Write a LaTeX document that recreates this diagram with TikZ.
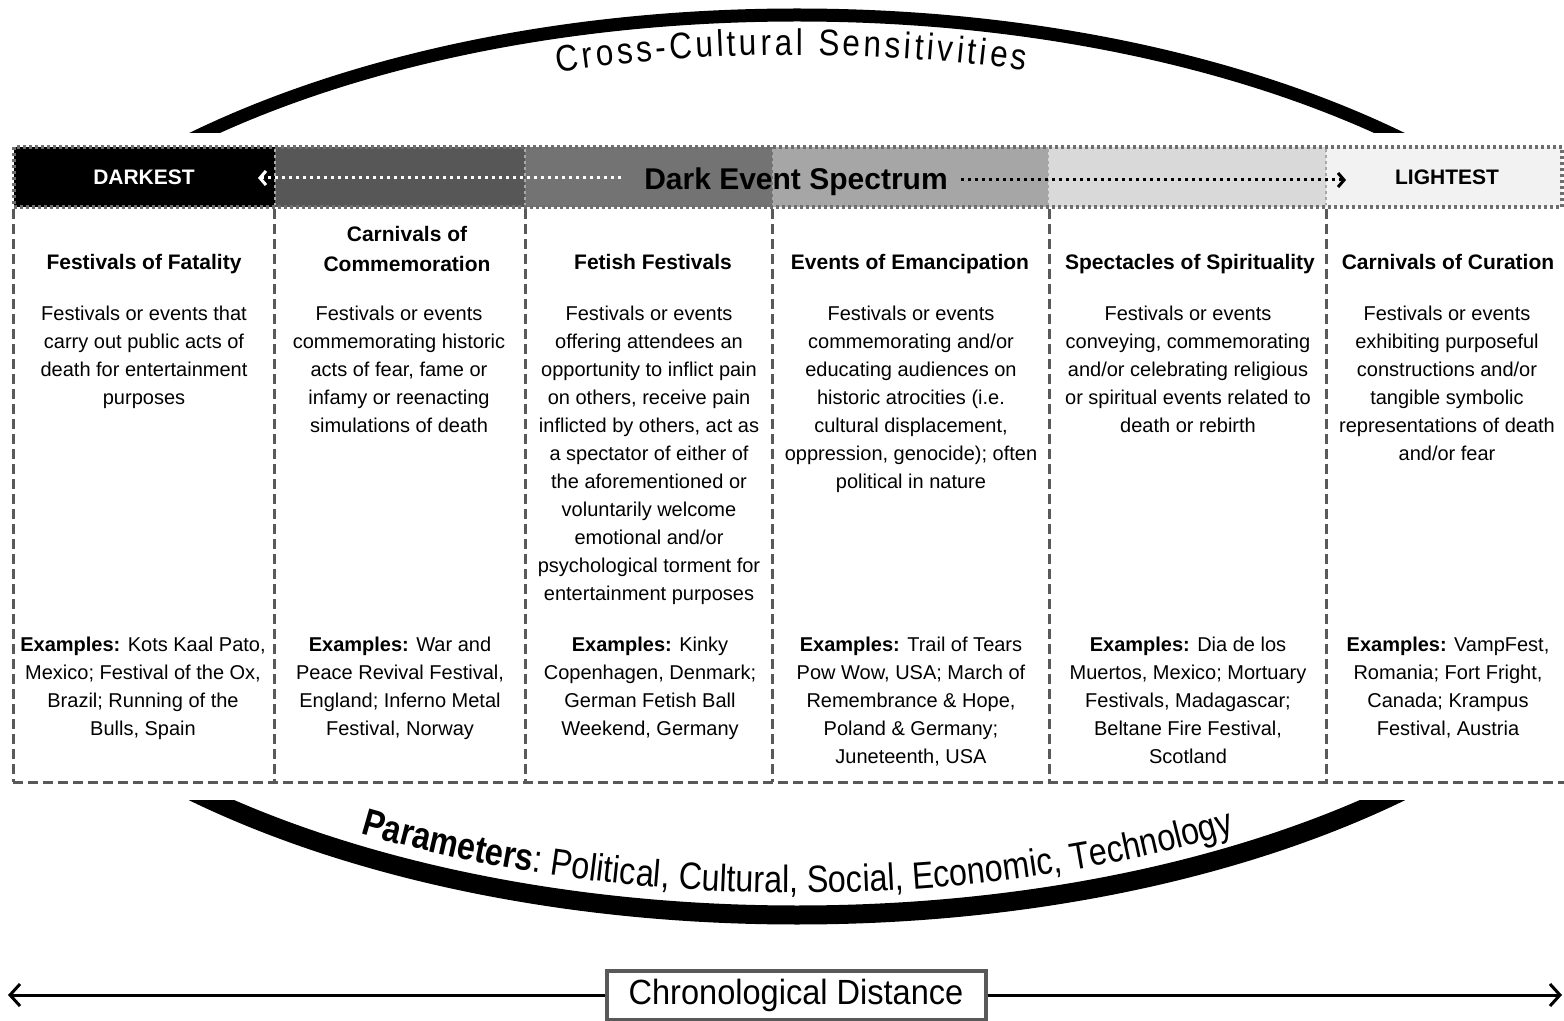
\documentclass[tikz,border=0pt]{standalone}
\usepackage{fontspec}
\setmainfont{Liberation Sans}
\newfontfamily\narrowfont[FakeStretch=0.85]{Liberation Sans}
\newfontfamily\chronofont[FakeStretch=0.93]{Liberation Sans}
\usetikzlibrary{arrows.meta,decorations.text}
\definecolor{dashgray}{HTML}{595959}
\definecolor{framegray}{HTML}{6E6E6E}
\definecolor{specA}{HTML}{575757}
\definecolor{specB}{HTML}{737373}
\definecolor{specC}{HTML}{A6A6A6}
\definecolor{specD}{HTML}{D9D9D9}
\definecolor{specE}{HTML}{F2F2F2}
\begin{document}
\begin{tikzpicture}[x=0.5pt, y=-0.5pt,
    colline/.style={draw=dashgray, line width=1.5pt, dash pattern=on 5pt off 2.5pt},
    barline/.style={draw=framegray, line width=2pt, dash pattern=on 1.5pt off 1.5pt},
    heading/.style={anchor=north, align=center, inner sep=0pt, font=\fontsize{10.5}{15}\selectfont\bfseries},
    body/.style={anchor=north, align=center, inner sep=0pt, font=\fontsize{10}{14}\selectfont},
    endlabel/.style={inner sep=0pt, font=\fontsize{10.5}{12}\selectfont\bfseries},
    ring/.style={line width=6.5pt},
    spread/.style={line width=1.5pt, dash pattern=on 1.5pt off 2pt, -{Straight Barb[length=3pt,width=7pt]}},
    chronobox/.style={draw=dashgray, line width=2pt, fill=white, minimum width=189.5pt, minimum height=24.5pt, inner sep=0pt, font=\chronofont\fontsize{17.5}{20}\selectfont},
    timeline/.style={line width=1.5pt, -{Straight Barb[length=5pt,width=11pt]}}]

\useasboundingbox (0,0) rectangle (1564,1021);

\begin{scope}
  \clip (0,0) rectangle (1564,133);
  \draw[ring] (797,465) ellipse [x radius=878, y radius=450];
\end{scope}
\begin{scope}
  \clip (0,800) rectangle (1564,1021);
  \draw[ring, line width=9.5pt] (797,465) ellipse [x radius=878, y radius=450];
\end{scope}

\path[decorate, decoration={text along path, text align=fit to path,
    text={|\narrowfont\fontsize{18.5}{18}\selectfont|Cross-Cultural Sensitivities}}]
  (557.6,72.1) arc[start angle=253.4, end angle=285.8, x radius=838, y radius=410];
\path[decorate, decoration={text along path, text align=center,
    text={|\narrowfont\fontsize{19}{18}\selectfont\bfseries|Parameters|\narrowfont\fontsize{19}{18}\selectfont\mdseries|: Political, Cultural, Social, Economic, Technology}}]
  (318.3,819.8) arc[start angle=124, end angle=56, x radius=856, y radius=428];

\foreach \a/\b/\c in {14/275/black, 275/525/specA, 525/773/specB, 773/1048/specC, 1048/1326/specD, 1326/1562/specE}
  \fill[\c] (\a,147) rectangle (\b,207);
\foreach \x in {275,525,773,1048,1326}
  \draw[barline, draw=framegray!60, line width=1pt] (\x,149) -- (\x,205);
\draw[barline] (14,147) rectangle (1562,207);

\foreach \x in {13,274,525,772,1049,1326}
  \draw[colline] (\x,209) -- (\x,782);
\draw[colline] (13,782) -- (1564,782);

\node (darkest) at (144,177) [endlabel, text=white] {DARKEST};
\node (lightest) at (1447,177) [endlabel] {LIGHTEST};
\node (spectrum) at (796,182) [inner sep=0pt, font=\fontsize{15}{18}\selectfont\bfseries] {Dark Event Spectrum};
\coordinate (darkend) at (258,178);
\coordinate (lightend) at (1346,180);
\path (spectrum.west) ++(-23,-4) coordinate (specl);
\path (spectrum.east) ++(13,-2) coordinate (specr);
\draw[spread, white] (specl) -- (darkend);
\draw[spread] (specr) -- (lightend);

\node (head1) at (144,254) [heading] {Festivals of Fatality};
\node (head2) at (407,226) [heading] {Carnivals of\\Commemoration};
\node (head3) at (653,254) [heading] {Fetish Festivals};
\node (head4) at (910,254) [heading] {Events of Emancipation};
\node (head5) at (1190,254) [heading] {Spectacles of Spirituality};
\node (head6) at (1448,254) [heading] {Carnivals of Curation};

\node (desc1) at (144,305.5) [body] {Festivals or events that\\carry out public acts of\\death for entertainment\\purposes};
\node (desc2) at (399,305.5) [body] {Festivals or events\\commemorating historic\\acts of fear, fame or\\infamy or reenacting\\simulations of death};
\node (desc3) at (649,305.5) [body] {Festivals or events\\offering attendees an\\opportunity to inflict pain\\on others, receive pain\\inflicted by others, act as\\a spectator of either of\\the aforementioned or\\voluntarily welcome\\emotional and/or\\psychological torment for\\entertainment purposes};
\node (desc4) at (911,305.5) [body] {Festivals or events\\commemorating and/or\\educating audiences on\\historic atrocities (i.e.\\cultural displacement,\\oppression, genocide); often\\political in nature};
\node (desc5) at (1188,305.5) [body] {Festivals or events\\conveying, commemorating\\and/or celebrating religious\\or spiritual events related to\\death or rebirth};
\node (desc6) at (1447,305.5) [body] {Festivals or events\\exhibiting purposeful\\constructions and/or\\tangible symbolic\\representations of death\\and/or fear};

\node (ex1) at (143,636.5) [body] {\textbf{Examples:} Kots Kaal Pato,\\Mexico; Festival of the Ox,\\Brazil; Running of the\\Bulls, Spain};
\node (ex2) at (400,636.5) [body] {\textbf{Examples:} War and\\Peace Revival Festival,\\England; Inferno Metal\\Festival, Norway};
\node (ex3) at (650,636.5) [body] {\textbf{Examples:} Kinky\\Copenhagen, Denmark;\\German Fetish Ball\\Weekend, Germany};
\node (ex4) at (911,636.5) [body] {\textbf{Examples:} Trail of Tears\\Pow Wow, USA; March of\\Remembrance \& Hope,\\Poland \& Germany;\\Juneteenth, USA};
\node (ex5) at (1188,636.5) [body] {\textbf{Examples:} Dia de los\\Muertos, Mexico; Mortuary\\Festivals, Madagascar;\\Beltane Fire Festival,\\Scotland};
\node (ex6) at (1448,636.5) [body] {\textbf{Examples:} VampFest,\\Romania; Fort Fright,\\Canada; Krampus\\Festival, Austria};

\node (chrono) at (796,995) [chronobox] {Chronological Distance};
\coordinate (past) at (8,995);
\coordinate (future) at (1562,995);
\draw[timeline] (chrono) -- (past);
\draw[timeline] (chrono) -- (future);
\end{tikzpicture}
\end{document}
